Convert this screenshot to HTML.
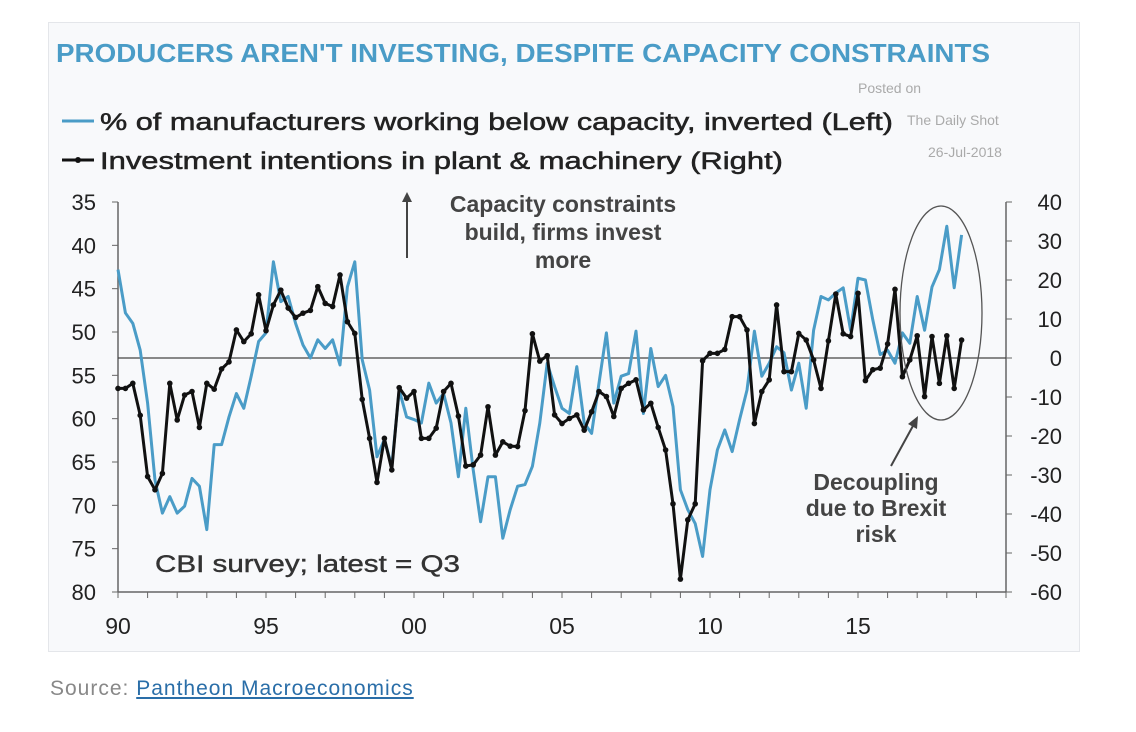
<!DOCTYPE html>
<html><head><meta charset="utf-8"><style>
body{margin:0;background:#fff;width:1136px;height:732px;overflow:hidden;font-family:"Liberation Sans",sans-serif}
#card{position:absolute;left:48px;top:22px;width:1030px;height:628px;background:#f8f9fb;border:1px solid #e4e6ea}
#src{position:absolute;left:50px;top:677px;font-size:21px;color:#888;letter-spacing:1px}
#src a{color:#2a6ea8;text-decoration:underline}
</style></head><body>
<div id="card"></div>
<svg width="1136" height="732" style="position:absolute;left:0;top:0">
<text x="56" y="62" font-size="26" font-weight="bold" fill="#4a9cc7" textLength="934" lengthAdjust="spacingAndGlyphs">PRODUCERS AREN'T INVESTING, DESPITE CAPACITY CONSTRAINTS</text>
<g>
<line x1="62" y1="121" x2="94" y2="121" stroke="#4a9cc7" stroke-width="3"/>
<text x="100" y="130" font-size="24" fill="#222" stroke="#222" stroke-width="0.5" textLength="793" lengthAdjust="spacingAndGlyphs">% of manufacturers working below capacity, inverted (Left)</text>
<line x1="62" y1="160" x2="94" y2="160" stroke="#111" stroke-width="3"/>
<circle cx="78" cy="160" r="3" fill="#111"/>
<text x="100" y="169" font-size="24" fill="#222" stroke="#222" stroke-width="0.5" textLength="683" lengthAdjust="spacingAndGlyphs">Investment intentions in plant &amp; machinery (Right)</text>
</g>
<g font-size="14" fill="#aaa">
<text x="858" y="93">Posted on</text>
<text x="907" y="125">The Daily Shot</text>
<text x="928" y="157">26-Jul-2018</text>
</g>
<g id="axes"></g>
<g id="marks"></g>
<g>
<line x1="407" y1="258" x2="407" y2="198" stroke="#444" stroke-width="2"/>
<polygon points="407,192 402,202 412,202" fill="#444"/>
<g font-size="23" fill="#444" text-anchor="middle" font-weight="bold">
<text x="563" y="212">Capacity constraints</text>
<text x="563" y="240">build, firms invest</text>
<text x="563" y="268">more</text>
<text x="876" y="490">Decoupling</text>
<text x="876" y="516">due to Brexit</text>
<text x="876" y="542">risk</text>
</g>
<line x1="891" y1="466" x2="914" y2="424" stroke="#444" stroke-width="2"/>
<polygon points="918,416 908,424 917,429" fill="#444"/>
<ellipse cx="941" cy="313" rx="41" ry="107" fill="none" stroke="#555" stroke-width="1.3"/>
<text x="155" y="572" font-size="24" fill="#333" stroke="#333" stroke-width="0.4" textLength="305" lengthAdjust="spacingAndGlyphs">CBI survey; latest = Q3</text>
</g>
</svg>
<div id="src">Source: <a>Pantheon Macroeconomics</a></div>
<script>
const leftTicks=[35,40,45,50,55,60,65,70,75,80];
const rightTicks=[40,30,20,10,0,-10,-20,-30,-40,-50,-60];
const yearLabels=["90","95","00","05","10","15"];
const yearValues=[1990,1995,2000,2005,2010,2015];
const capacityInverted=[42.8,47.8,49,52.1,58.2,67.1,70.9,69,70.9,70.1,66.9,67.8,72.8,63,63,59.8,57.1,58.8,55.1,51.1,50.1,41.9,46.5,45.9,49,51.5,53,50.9,51.9,50.9,53.8,44.8,41.9,53.2,56.7,64.4,62.4,65.5,56.7,59.8,
60.1,60.5,55.9,58.2,57.1,60.5,66.7,58.8,65.9,71.9,66.7,66.7,73.8,70.5,67.8,67.6,65.5,60.5,53.6,56.3,58.8,59.4,54,60.5,61.7,55.9,50.1,58.2,55.1,54.8,49.9,59.4,51.9,56.3,55,58.6,68.2,70.5,72.1,75.9,
68.2,63.6,61.3,63.8,60.1,56.7,49.9,55.1,53.6,51.7,52.4,56.7,53.6,58.8,49.8,45.9,46.3,45.5,44.9,49.8,43.8,44,48.6,52.6,52.1,53.6,50.1,51.3,45.9,49.8,44.8,42.8,37.8,44.9,38.8];
const investment=[-7.8,-7.8,-6.5,-14.7,-30.4,-33.8,-29.6,-6.5,-15.9,-9.5,-8.6,-17.8,-6.5,-8,-2.8,-1,7.2,4.2,6.2,16.2,7,13.6,17.4,12.8,10.4,11.5,12.2,18.3,14,13.2,21.3,9.3,6.3,-10.6,-20.6,-31.9,-20.6,-28.7,-7.6,-10.3,
-8.6,-20.6,-20.6,-18,-8.6,-6.5,-14.9,-27.7,-27.4,-24.9,-12.5,-24.9,-21.5,-22.6,-22.7,-13.5,6.2,-0.8,0.6,-14.6,-16.8,-15.5,-14.6,-18.5,-13.8,-8.6,-9.9,-15,-7.8,-6.5,-5.6,-13.3,-11.6,-17.8,-23.6,-37.4,-56.7,-41.5,-37.4,-0.7,
1.2,1.2,2.2,10.6,10.6,7.2,-16.8,-8.6,-5.6,13.6,-3.5,-3.5,6.3,4.6,-0.5,-7.8,4.4,16.4,6.2,5.5,16.6,-5.8,-3,-2.6,3.6,17.6,-4.8,-0.5,5.7,-9.9,5.5,-6.5,5.7,-7.8,4.6];
const X0=118,X1=1006,Y0=202,Y1=592;
const x=t=>X0+(t-1990)/30*(X1-X0);
const yL=v=>Y0+(v-35)/45*(Y1-Y0);
const yR=v=>Y0+(40-v)/100*(Y1-Y0);
const NS="http://www.w3.org/2000/svg";
function mk(tag,attrs,parent){const e=document.createElementNS(NS,tag);for(const k in attrs)e.setAttribute(k,attrs[k]);parent.appendChild(e);return e;}
const ax=document.getElementById('axes'),mg=document.getElementById('marks');
let e;
e=mk('line',{x1:X0,y1:Y0,x2:X0,y2:Y1,stroke:'#666','stroke-width':1.5},ax);


e=mk('line',{x1:X1,y1:Y0,x2:X1,y2:Y1,stroke:'#666','stroke-width':1.5},ax);


e=mk('line',{x1:X0,y1:Y1,x2:X1,y2:Y1,stroke:'#666','stroke-width':1.5},ax);


e=mk('line',{x1:X0,y1:yR(0),x2:X1,y2:yR(0),stroke:'#444','stroke-width':1.2},ax);


leftTicks.forEach(v=>{mk('line',{x1:X0-6,y1:yL(v),x2:X0,y2:yL(v),stroke:'#666'},ax);
 e=mk('text',{x:96,y:yL(v)+8,'font-size':22,'text-anchor':'end',fill:'#222'},ax);e.textContent=v;
 
 });
rightTicks.forEach(v=>{mk('line',{x1:X1,y1:yR(v),x2:X1+6,y2:yR(v),stroke:'#666'},ax);
 e=mk('text',{x:1062,y:yR(v)+8,'font-size':22,'text-anchor':'end',fill:'#222'},ax);e.textContent=v;
 
 });
for(let yr=1990;yr<=2020;yr++)mk('line',{x1:x(yr),y1:Y1,x2:x(yr),y2:Y1+6,stroke:'#666'},ax);
yearValues.forEach((yv,i)=>{e=mk('text',{x:x(yv),y:634,'font-size':23,'text-anchor':'middle',fill:'#222'},ax);e.textContent=yearLabels[i];
 
 });
const tq=i=>1990+i/4;
e=mk('polyline',{points:capacityInverted.map((v,i)=>x(tq(i))+','+yL(v)).join(' '),fill:'none',stroke:'#4a9cc7','stroke-width':3,'stroke-linejoin':'round'},mg);


e=mk('polyline',{points:investment.map((v,i)=>x(tq(i))+','+yR(v)).join(' '),fill:'none',stroke:'#111','stroke-width':3,'stroke-linejoin':'round'},mg);


investment.forEach((v,i)=>{e=mk('circle',{cx:x(tq(i)),cy:yR(v),r:2.8,fill:'#111'},mg);
 
 });
</script>
</body></html>
